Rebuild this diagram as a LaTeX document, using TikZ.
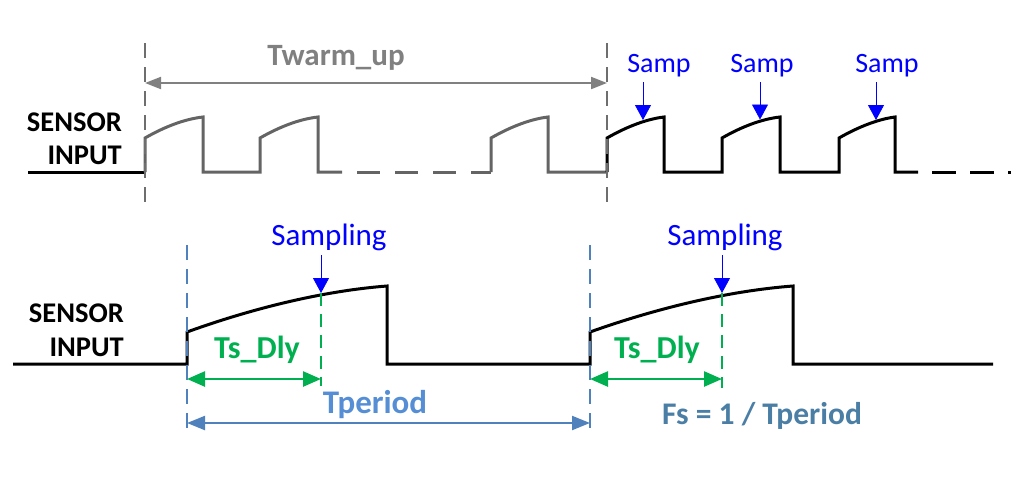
\documentclass[tikz,border=0pt]{standalone}
\usepackage{fontspec}
\setmainfont{Carlito}
\usetikzlibrary{arrows.meta}
\definecolor{wgray}{RGB}{100,100,100}
\definecolor{agray}{RGB}{128,128,128}
\definecolor{vgray}{RGB}{110,110,110}
\definecolor{sblue}{RGB}{0,0,255}
\definecolor{tgreen}{RGB}{0,176,80}
\definecolor{tpblue}{RGB}{85,142,213}
\definecolor{lnblue}{RGB}{79,129,189}
\definecolor{fsblue}{RGB}{74,126,165}
\begin{document}
\begin{tikzpicture}[x=1pt,y=-1pt,
  wave/.style={line width=3pt,line join=miter},
  vdash/.style={line width=1.6pt,dash pattern=on 15pt off 9pt},
  grayarrow/.style={agray,line width=2pt,{Triangle[length=16pt,width=12pt]}-{Triangle[length=16pt,width=12pt]}},
  garrow/.style={tgreen,line width=2.5pt,{Triangle[length=18pt,width=15pt]}-{Triangle[length=18pt,width=15pt]}},
  tparrow/.style={lnblue,line width=2.2pt,{Triangle[length=18pt,width=14pt]}-{Triangle[length=18pt,width=14pt]}},
  samparrow/.style={sblue,line width=0.8pt,-{Triangle[length=15pt,width=16pt]}},
  lbl/.style={inner sep=0pt,anchor=base},
  sensor/.style={inner sep=0pt,anchor=base east,font=\bfseries\fontsize{28.5}{32}\selectfont},
]
\useasboundingbox (0,0) rectangle (1024,480);

% ---------- top waveform ----------
\draw[wave,black] (28,172) -- (145,172);
\draw[wave,wgray] (145,172) -- (145,138) .. controls (165,126.5) and (185,119) .. (203,117) -- (203,172) -- (260,172)
  -- (260,138) .. controls (280,126.5) and (300,119) .. (318,117) -- (318,172) -- (342,172);
\draw[wave,wgray,dash pattern=on 23pt off 15pt,dash phase=23pt] (342,172) -- (491,172);
\draw[wave,wgray] (491,172) -- (491,138) .. controls (511,126.5) and (531,119) .. (548,117) -- (548,172) -- (607,172);
\draw[wave,black] (607,172) -- (607,138) .. controls (627,126.5) and (647,119) .. (664,117) -- (664,172) -- (722,172)
  -- (722,138) .. controls (742,126.5) and (762,119) .. (780,117) -- (780,172) -- (839,172)
  -- (839,138) .. controls (859,126.5) and (879,119) .. (895,117) -- (895,172) -- (918,172);
\draw[wave,black,dash pattern=on 24pt off 14pt,dash phase=24pt] (918,172) -- (1011,172);

% gray dashed markers and warm-up arrow
\coordinate (wa) at (145,43); \coordinate (wb) at (145,207);
\coordinate (wc) at (607,43); \coordinate (wd) at (607,207);
\draw[vdash,vgray] (wa) -- (wb);
\draw[vdash,vgray] (wc) -- (wd);
\coordinate (wl) at (145,83); \coordinate (wr) at (607,83);
\draw[grayarrow] (wl) -- (wr);
\node[lbl,agray,font=\bfseries\fontsize{31}{35}\selectfont] (twarm) at (336,65) {Twarm\_up};

% Samp labels and arrows
\node[lbl,sblue,font=\fontsize{28}{32}\selectfont] (samp1) at (659,72) {Samp};
\node[lbl,sblue,font=\fontsize{28}{32}\selectfont] (samp2) at (762,72) {Samp};
\node[lbl,sblue,font=\fontsize{28}{32}\selectfont] (samp3) at (887,72) {Samp};
\coordinate (st1) at (643,120); \coordinate (ss1) at (643,82);
\coordinate (st2) at (760,119.5); \coordinate (ss2) at (760,82);
\coordinate (st3) at (876,120); \coordinate (ss3) at (876,82);
\draw[samparrow] (ss1) -- (st1);
\draw[samparrow] (ss2) -- (st2);
\draw[samparrow] (ss3) -- (st3);

\node[sensor] (sen1) at (122,131) {SENSOR};
\node[sensor] (inp1) at (122,164) {INPUT};

% ---------- bottom waveform ----------
\draw[wave,black] (13,364) -- (187,364) -- (187,332) .. controls (257,306.7) and (327,290.6) .. (387,286) -- (387,364)
  -- (590,364) -- (590,332) .. controls (661,306.7) and (732,290.6) .. (793,286) -- (793,364) -- (993,364);

\node[sensor] (sen2) at (124,322) {SENSOR};
\node[sensor] (inp2) at (124,356) {INPUT};

% blue dashed period markers
\coordinate (pa) at (187,245); \coordinate (pb) at (187,433);
\coordinate (pc) at (590,245); \coordinate (pd) at (590,433);
\draw[vdash,lnblue] (pa) -- (pb);
\draw[vdash,lnblue] (pc) -- (pd);

% green sampling markers
\coordinate (ga) at (321,293); \coordinate (gb) at (321,386);
\coordinate (gc) at (722,293); \coordinate (gd) at (722,388);
\draw[vdash,tgreen,dash pattern=on 13pt off 8pt] (ga) -- (gb);
\draw[vdash,tgreen,dash pattern=on 13pt off 8pt] (gc) -- (gd);

% sampling labels and arrows
\node[lbl,sblue,font=\fontsize{31}{35}\selectfont] (smp1) at (329,245) {Sampling};
\node[lbl,sblue,font=\fontsize{31}{35}\selectfont] (smp2) at (725,245) {Sampling};
\coordinate (sa1) at (321,255); \coordinate (sa2) at (722,255);
\draw[samparrow] (sa1) -- (ga);
\draw[samparrow] (sa2) -- (gc);

% Ts_Dly arrows
\coordinate (d1l) at (187,379); \coordinate (d1r) at (321,379);
\coordinate (d2l) at (590,379); \coordinate (d2r) at (722,379);
\draw[garrow] (d1l) -- (d1r);
\draw[garrow] (d2l) -- (d2r);
\node[lbl,tgreen,font=\bfseries\fontsize{32}{36}\selectfont] (tsd1) at (257,358) {Ts\_Dly};
\node[lbl,tgreen,font=\bfseries\fontsize{32}{36}\selectfont] (tsd2) at (657,358) {Ts\_Dly};

% Tperiod arrow
\coordinate (tpl) at (187,423); \coordinate (tpr) at (590,423);
\draw[tparrow] (tpl) -- (tpr);
\node[lbl,tpblue,font=\bfseries\fontsize{33}{37}\selectfont] (tper) at (375,413) {Tperiod};
\node[lbl,fsblue,font=\bfseries\fontsize{31.5}{36}\selectfont] (fs) at (762,424) {Fs = 1 / Tperiod};
\end{tikzpicture}
\end{document}
